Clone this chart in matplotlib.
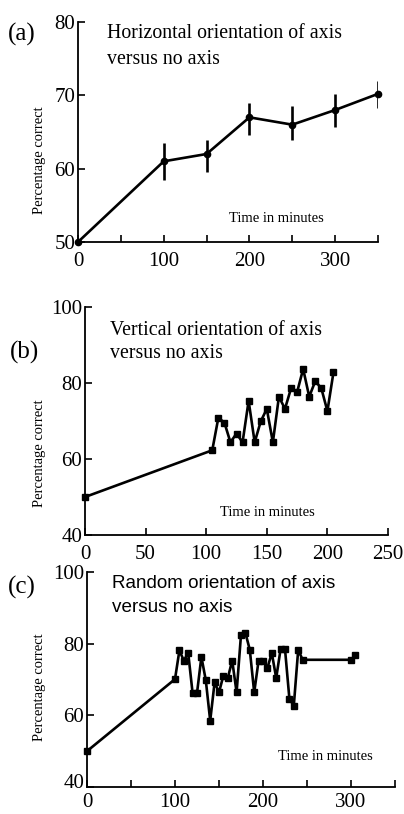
import matplotlib
matplotlib.use("Agg")
import matplotlib.pyplot as plt
import matplotlib.transforms as mtransforms

# Panel (a)
a_time = [0, 100, 150, 200, 250, 300, 350]
a_pct = [50, 61, 62, 67, 66, 68, 70.2]
a_err_lo = [50, 58.5, 59.6, 64.6, 63.9, 65.7, 68.3]
a_err_hi = [50, 63.5, 63.9, 69.0, 68.5, 70.2, 72.0]

# Panel (b)
b_time = [0, 105, 110, 115, 120, 125, 130, 135, 140, 145, 150, 155, 160, 165,
          170, 175, 180, 185, 190, 195, 200, 205]
b_pct = [50, 62.3, 70.8, 69.6, 64.4, 66.7, 64.4, 75.3, 64.4, 69.9, 73.2, 64.4,
         76.4, 73.2, 78.6, 77.6, 83.7, 76.4, 80.5, 78.6, 72.6, 82.8]

# Panel (c)
c_time = [0, 100, 105, 110, 115, 120, 125, 130, 135, 140, 145, 150, 155, 160,
          165, 170, 175, 180, 185, 190, 195, 200, 205, 210, 215, 220, 225, 230,
          235, 240, 245, 300, 305]
c_pct = [50, 70.1, 78.1, 75.3, 77.4, 66.2, 66.2, 76.3, 69.8, 58.5, 69.2, 66.4,
         71.1, 70.4, 75.3, 66.4, 82.5, 83.0, 78.3, 66.4, 75.3, 75.3, 73.2, 77.4,
         70.4, 78.5, 78.5, 64.6, 62.7, 78.3, 75.5, 75.5, 76.7]

W, H = 404, 814
fig = plt.figure(figsize=(W / 100, H / 100), dpi=100)
serif = "Liberation Serif"
sans = "Liberation Sans"
TICK_FS = 15
LW = 1.9


def box(l, t, r, b):
    return [l / W, 1 - b / H, (r - l) / W, (b - t) / H]


def style(ax, xlim, ylim, xticks, xlabels, yticks, xpad=7):
    for s in ("top", "right"):
        ax.spines[s].set_visible(False)
    for s in ("left", "bottom"):
        ax.spines[s].set_linewidth(1.3)
    ax.set_xlim(*xlim)
    ax.set_ylim(*ylim)
    ax.set_xticks(xticks)
    ax.set_xticklabels(xlabels, fontfamily=serif, fontsize=TICK_FS)
    ax.set_yticks(yticks)
    ax.set_yticklabels([str(v) for v in yticks], fontfamily=serif, fontsize=TICK_FS)
    ax.tick_params(axis="both", direction="in", length=5, width=1.2)
    ax.tick_params(axis="x", pad=xpad)
    ax.tick_params(axis="y", pad=2)
    ax.patch.set_alpha(0)


def T(x, y, s, **kw):
    fig.text(x / W, 1 - y / H, s, **kw)


TITLE_FS = 14.3
LAB_FS = 10.5
PANEL_FS = 18

# ---- (a)
ax = fig.add_axes(box(78, 22, 378, 242))
style(ax, (0, 350), (50, 80), [0, 50, 100, 150, 200, 250, 300, 350],
      ["0", "", "100", "", "200", "", "300", ""], [50, 60, 70, 80])
ax.vlines(a_time[1:], a_err_lo[1:], a_err_hi[1:], color="black", lw=LW)
ax.plot(a_time, a_pct, color="black", lw=LW, marker="o", ms=4.5, clip_on=False)
T(8, 34, "(a)", fontfamily=serif, fontsize=PANEL_FS, va="center")
T(107, 33, "Horizontal orientation of axis", fontfamily=serif, fontsize=TITLE_FS, va="center")
T(107, 60, "versus no axis", fontfamily=serif, fontsize=TITLE_FS, va="center")
T(40, 160, "Percentage correct", fontfamily=serif, fontsize=LAB_FS, va="center",
  ha="center", rotation=90)
T(276, 218, "Time in minutes", fontfamily=serif, fontsize=LAB_FS, va="center", ha="center")

# ---- (b)
ax = fig.add_axes(box(85, 307, 388, 535))
style(ax, (0, 250), (40, 100), [0, 50, 100, 150, 200, 250],
      ["0", "50", "100", "150", "200", "250"], [40, 60, 80, 100])
ax.plot(b_time, b_pct, color="black", lw=LW, marker="s", ms=4, clip_on=False)
T(10, 352, "(b)", fontfamily=serif, fontsize=PANEL_FS, va="center")
T(110, 330, "Vertical orientation of axis", fontfamily=serif, fontsize=TITLE_FS, va="center")
T(110, 354, "versus no axis", fontfamily=serif, fontsize=TITLE_FS, va="center")
T(40, 453, "Percentage correct", fontfamily=serif, fontsize=LAB_FS, va="center",
  ha="center", rotation=90)
T(267, 512, "Time in minutes", fontfamily=serif, fontsize=LAB_FS, va="center", ha="center")

# ---- (c)
ax = fig.add_axes(box(87, 572, 395, 787))
style(ax, (0, 350), (40, 100), [0, 50, 100, 150, 200, 250, 300, 350],
      ["0", "", "100", "", "200", "", "300", ""], [40, 60, 80, 100], xpad=4)
ax.plot(c_time, c_pct, color="black", lw=LW, marker="s", ms=4, clip_on=False)
lab40 = ax.get_yticklabels()[0]
lab40.set_transform(lab40.get_transform() +
                    mtransforms.ScaledTranslation(0, 6 / 100, fig.dpi_scale_trans))
T(8, 587, "(c)", fontfamily=serif, fontsize=PANEL_FS, va="center")
T(112, 583, "Random orientation of axis", fontfamily=sans, fontsize=13.6, va="center")
T(112, 608, "versus no axis", fontfamily=sans, fontsize=13.6, va="center")
T(40, 687, "Percentage correct", fontfamily=serif, fontsize=LAB_FS, va="center",
  ha="center", rotation=90)
T(325, 756, "Time in minutes", fontfamily=serif, fontsize=LAB_FS, va="center", ha="center")

fig.savefig("out.png", dpi=100)
